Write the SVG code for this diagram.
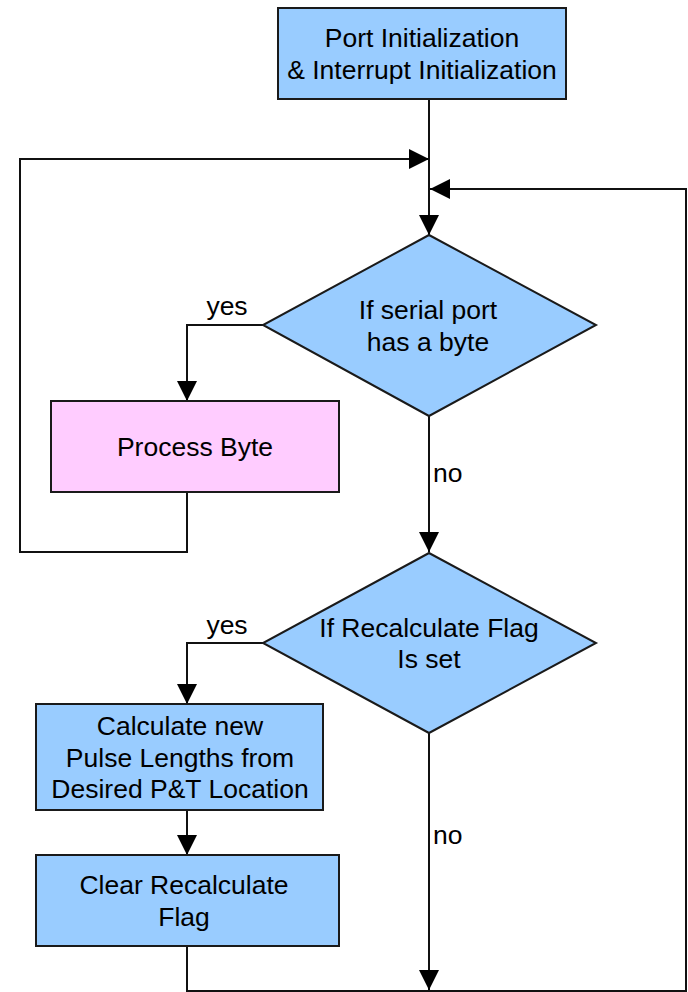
<svg xmlns="http://www.w3.org/2000/svg" width="688" height="992" viewBox="0 0 688 992">
  <style>
    .box { stroke: #1a1a1a; stroke-width: 2; }
    .blue { fill: #99ccff; }
    .pink { fill: #ffccff; }
    .wire { fill: none; stroke: #111; stroke-width: 2; }
    text { font-family: "Liberation Sans", Arial, sans-serif; font-size: 26.5px; fill: #000; }
    .c { text-anchor: middle; }
  </style>
  <defs>
    <marker id="arrow" markerUnits="userSpaceOnUse" markerWidth="21" markerHeight="21" refX="20" refY="10" orient="auto">
      <path d="M0,0 L20,10 L0,20 z" fill="#000"/>
    </marker>
  </defs>
  <rect width="688" height="992" fill="#fff"/>

  <g id="connectors">
    <path class="wire" d="M429,99 V235" marker-end="url(#arrow)"/>
    <path class="wire" d="M263,325 H187 V401" marker-end="url(#arrow)"/>
    <path class="wire" d="M187,492 V552 H20 V159 H429" marker-end="url(#arrow)"/>
    <path class="wire" d="M429,416 V552" marker-end="url(#arrow)"/>
    <path class="wire" d="M263,643 H187 V704" marker-end="url(#arrow)"/>
    <path class="wire" d="M187,810 V855" marker-end="url(#arrow)"/>
    <path class="wire" d="M429,733 V990" marker-end="url(#arrow)"/>
    <path class="wire" d="M187,946 V991 H686 V189 H430" marker-end="url(#arrow)"/>
    <text x="227" y="315" class="c">yes</text>
    <text x="433" y="482">no</text>
    <text x="227" y="634" class="c">yes</text>
    <text x="433" y="844">no</text>
  </g>

  <g id="init">
    <rect class="box blue" x="278" y="8" width="288" height="91"/>
    <text x="422" y="47" class="c">Port Initialization</text>
    <text x="422" y="79" class="c">&amp; Interrupt Initialization</text>
  </g>

  <g id="serial-check">
    <polygon class="box blue" points="429,235 596,325 429,416 263,325"/>
    <text x="428" y="319" class="c">If serial port</text>
    <text x="428" y="351" class="c">has a byte</text>
  </g>

  <g id="process-byte">
    <rect class="box pink" x="51" y="401" width="288" height="91"/>
    <text x="195" y="456" class="c">Process Byte</text>
  </g>

  <g id="flag-check">
    <polygon class="box blue" points="429,553 596,643 429,733 263,643"/>
    <text x="429" y="637" class="c">If Recalculate Flag</text>
    <text x="429" y="668" class="c">Is set</text>
  </g>

  <g id="calculate">
    <rect class="box blue" x="36" y="704" width="287" height="106"/>
    <text x="180" y="735" class="c">Calculate new</text>
    <text x="180" y="767" class="c">Pulse Lengths from</text>
    <text x="180" y="798" class="c">Desired P&amp;T Location</text>
  </g>

  <g id="clear-flag">
    <rect class="box blue" x="36" y="855" width="303" height="91"/>
    <text x="184" y="894" class="c">Clear Recalculate</text>
    <text x="184" y="926" class="c">Flag</text>
  </g>
</svg>
